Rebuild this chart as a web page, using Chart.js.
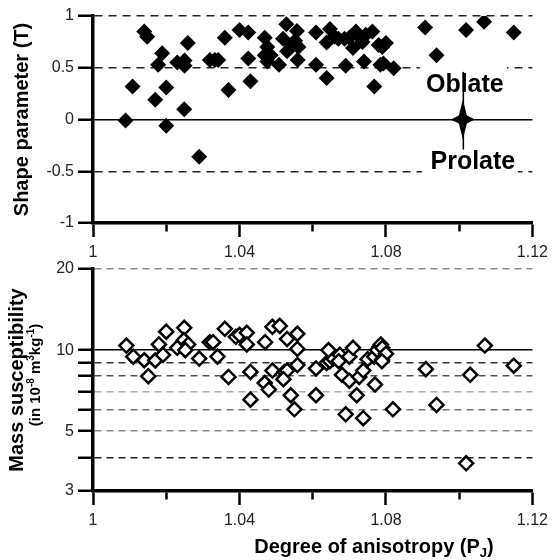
<!DOCTYPE html>
<html>
<head>
<meta charset="utf-8">
<script src="https://cdn.jsdelivr.net/npm/chart.js@4.4.1/dist/chart.umd.min.js"></script>
<style>
  body { margin: 0; background: #fff; }
  #wrap { position: relative; width: 554px; height: 560px; }
  canvas { position: absolute; left: 0; }
  #shape-chart { top: 0; }
  #susc-chart { top: 250px; }
</style>
</head>
<body>
<div id="wrap">
  <canvas id="susc-chart" width="554" height="310"></canvas>
  <canvas id="shape-chart" width="554" height="262"></canvas>
</div>
<script>
// x axis (degree of anisotropy)
const xTicks = [1, 1.02, 1.04, 1.06, 1.08, 1.1, 1.12];
const xTickLabels = ["1", "", "1.04", "", "1.08", "", "1.12"];

// top panel: shape parameter T
const shapeTicks = [-1, -0.5, 0, 0.5, 1];
const shapeTickLabels = ["-1", "-0.5", "0", "0.5", "1"];
const pjShape = [
  1.0089, 1.0108, 1.0140, 1.0148, 1.0189, 1.0178, 1.0170, 1.0200, 1.0200, 1.0259,
  1.0230, 1.0250, 1.0250, 1.0249, 1.0290, 1.0319, 1.0333, 1.0342, 1.0360, 1.0370,
  1.0400, 1.0424, 1.0424, 1.0430, 1.0469, 1.0476, 1.0469, 1.0485, 1.0476, 1.0508,
  1.0528, 1.0519, 1.0557, 1.0543, 1.0561, 1.0559, 1.0530, 1.0552, 1.0609, 1.0609,
  1.0638, 1.0647, 1.0660, 1.0638, 1.0670, 1.0687, 1.0700, 1.0690, 1.0710, 1.0718,
  1.0727, 1.0736, 1.0745, 1.0763, 1.0740, 1.0768, 1.0780, 1.0785, 1.0790, 1.0800,
  1.0793, 1.0821, 1.0907, 1.0938, 1.1019, 1.1068, 1.1149
];
const shapeT = [
  -0.01, 0.32, 0.85, 0.80, 0.64, 0.53, 0.19, 0.31, -0.06, 0.74,
  0.55, 0.57, 0.52, 0.10, -0.36, 0.575, 0.575, 0.575, 0.79, 0.285,
  0.865, 0.84, 0.59, 0.37, 0.79, 0.70, 0.62, 0.62, 0.56, 0.53,
  0.92, 0.78, 0.855, 0.72, 0.70, 0.575, 0.66, 0.76, 0.84, 0.53,
  0.40, 0.875, 0.80, 0.745, 0.78, 0.78, 0.79, 0.52, 0.69, 0.85,
  0.80, 0.75, 0.82, 0.85, 0.56, 0.32, 0.72, 0.53, 0.70, 0.74,
  0.54, 0.495, 0.89, 0.62, 0.865, 0.945, 0.84
];

// oblate / prolate marker
const markerPj = 1.101;
const markerT = 0;
const markerLine = [0.46, -0.29];
const markerLabels = ["Oblate", "Prolate"];

// bottom panel: mass susceptibility (log axis)
const suscTicks = [3, 4, 5, 6, 7, 8, 9, 10, 20];
const suscTickLabels = ["3", "", "5", "", "", "", "", "10", "20"];
const pjSusc = [
  1.0091, 1.0110, 1.0140, 1.0151, 1.0170, 1.0180, 1.0191, 1.0200, 1.0230, 1.0249,
  1.0248, 1.0260, 1.0252, 1.0290, 1.0319, 1.0328, 1.0340, 1.0360, 1.0370, 1.0390,
  1.0400, 1.0420, 1.0420, 1.0430, 1.0430, 1.0470, 1.0490, 1.0510, 1.0530, 1.0558,
  1.0558, 1.0490, 1.0469, 1.0480, 1.0523, 1.0530, 1.0520, 1.0540, 1.0550, 1.0558,
  1.0609, 1.0609, 1.0638, 1.0647, 1.0656, 1.0643, 1.0674, 1.0671, 1.0700, 1.0710,
  1.0680, 1.0700, 1.0690, 1.0720, 1.0738, 1.0727, 1.0738, 1.0750, 1.0770, 1.0768,
  1.0783, 1.0789, 1.0776, 1.0786, 1.0790, 1.0800, 1.0789, 1.0819, 1.0909, 1.0938,
  1.1030, 1.1070, 1.1149, 1.1019
];
const susc = [
  10.4, 9.45, 9.17, 8.0, 9.15, 10.5, 9.6, 11.7, 10.2, 12.1,
  10.9, 10.5, 10.0, 9.3, 10.7, 10.7, 9.46, 12.0, 7.95, 11.2,
  11.4, 11.6, 10.5, 8.3, 6.55, 10.7, 12.2, 12.3, 11.0, 11.5,
  10.1, 8.4, 7.55, 7.14, 8.3, 8.4, 7.8, 6.8, 6.03, 8.8,
  6.8, 8.55, 8.96, 9.1, 9.3, 10.0, 9.6, 9.1, 9.45, 10.2,
  8.1, 7.7, 5.78, 6.8, 5.59, 7.95, 8.4, 9.25, 7.45, 9.45,
  10.3, 9.2, 10.0, 10.5, 10.2, 9.7, 9.1, 6.03, 8.5, 6.26,
  8.1, 10.4, 8.75, 3.80
];

const FONT = "'Liberation Sans', Arial, sans-serif";
Chart.defaults.font.family = FONT;
Chart.defaults.color = "#222";

function toPoints(xs, ys) {
  return xs.map((x, i) => ({ x: x, y: ys[i] }));
}

function xAxis(height) {
  return {
    type: "linear",
    min: 1,
    max: 1.12,
    afterBuildTicks: (scale) => {
      scale.ticks = xTicks.map((v) => ({ value: v }));
    },
    afterFit: (scale) => {
      scale.height = height;
    },
    ticks: {
      autoSkip: false,
      maxRotation: 0,
      padding: 6,
      font: { size: 16 },
      color: "#222",
      callback: (value, index) => xTickLabels[index],
    },
    grid: {
      drawOnChartArea: false,
      tickLength: 14,
      tickWidth: 2.5,
      tickColor: "#000",
      // minor ticks are short
      tickBorderDash: (ctx) => (xTickLabels[ctx.index] === "" ? [7, 100] : []),
    },
    border: { color: "#000", width: 3.5 },
  };
}

// top chart: marker with labels
const markerPlugin = {
  id: "marker",
  afterDatasetsDraw(chart) {
    const ctx = chart.ctx;
    const x = chart.scales.x.getPixelForValue(markerPj);
    const y = chart.scales.y.getPixelForValue(markerT);
    ctx.save();
    ctx.font = "bold 25px " + FONT;
    ctx.textAlign = "center";
    ctx.textBaseline = "alphabetic";

    // white boxes under the labels hide the dashed lines
    ctx.fillStyle = "#fff";
    ctx.fillRect(x - 43, y - 56, 87, 32);
    ctx.fillRect(x - 41, y + 28, 96, 26);
    ctx.fillStyle = "#000";
    ctx.fillText(markerLabels[0], x + 2, y - 28);
    ctx.fillText(markerLabels[1], x + 10, y + 49);

    // vertical line
    ctx.strokeStyle = "#000";
    ctx.lineWidth = 1.5;
    ctx.beginPath();
    ctx.moveTo(x + 0.5, chart.scales.y.getPixelForValue(markerLine[0]));
    ctx.lineTo(x + 0.5, chart.scales.y.getPixelForValue(markerLine[1]));
    ctx.stroke();

    // four pointed star
    ctx.beginPath();
    ctx.moveTo(x, y - 20);
    ctx.lineTo(x + 4, y - 4);
    ctx.lineTo(x + 12, y);
    ctx.lineTo(x + 4, y + 4);
    ctx.lineTo(x, y + 20);
    ctx.lineTo(x - 4, y + 4);
    ctx.lineTo(x - 12, y);
    ctx.lineTo(x - 4, y - 4);
    ctx.closePath();
    ctx.fill();
    ctx.restore();
  },
};

const shapeChart = new Chart(document.getElementById("shape-chart"), {
  type: "scatter",
  data: {
    datasets: [
      {
        data: toPoints(pjShape, shapeT),
        pointStyle: "rectRot",
        pointRadius: 8,
        backgroundColor: "#000",
        borderWidth: 0,
      },
    ],
  },
  options: {
    responsive: false,
    animation: false,
    events: [],
    layout: { padding: { top: 16, right: 15, left: 0, bottom: 0 } },
    plugins: { legend: { display: false }, tooltip: { enabled: false } },
    scales: {
      x: xAxis(39),
      y: {
        min: -1,
        max: 1,
        afterBuildTicks: (scale) => {
          scale.ticks = shapeTicks.map((v) => ({ value: v }));
        },
        afterFit: (scale) => {
          scale.width = 93;
        },
        ticks: {
          padding: 4,
          font: { size: 16 },
          color: "#222",
          callback: (value, index) => shapeTickLabels[index],
        },
        grid: {
          color: (ctx) => {
            const v = shapeTicks[ctx.index];
            if (v === -1) return "rgba(0,0,0,0)";
            return v === 0 ? "#000" : "#222";
          },
          lineWidth: 1.5,
          tickLength: 15,
          tickWidth: 2.5,
          tickColor: "#000",
        },
        border: {
          color: "#000",
          width: 3.5,
          dash: (ctx) => (shapeTicks[ctx.index] === 0 ? [] : [8, 6]),
        },
        title: {
          display: true,
          text: "Shape parameter (T)",
          font: { size: 20, weight: "bold" },
          color: "#000",
          padding: { top: 10, bottom: 0 },
        },
      },
    },
  },
  plugins: [markerPlugin],
});

// bottom chart: extra text (units and x title)
const labelPlugin = {
  id: "labels",
  afterDraw(chart) {
    const ctx = chart.ctx;
    ctx.save();
    ctx.fillStyle = "#000";
    ctx.textBaseline = "alphabetic";

    // units under the y title, rotated
    const big = "bold 15px " + FONT;
    const small = "bold 10px " + FONT;
    const parts = [
      ["(in 10", big, 0],
      ["-8", small, -6],
      [" m", big, 0],
      ["3", small, -6],
      ["kg", big, 0],
      ["-1", small, -6],
      [")", big, 0],
    ];
    let total = 0;
    for (const p of parts) {
      ctx.font = p[1];
      total += ctx.measureText(p[0]).width;
    }
    const midY = (chart.chartArea.top + chart.chartArea.bottom) / 2 - 5;
    ctx.translate(35, midY);
    ctx.rotate(-Math.PI / 2);
    let pos = -total / 2;
    for (const p of parts) {
      ctx.font = p[1];
      ctx.fillText(p[0], pos, 5 + p[2]);
      pos += ctx.measureText(p[0]).width;
    }
    ctx.setTransform(1, 0, 0, 1, 0, 0);

    // x axis title with subscript J
    const title = [
      ["Degree of anisotropy (P", "bold 20px " + FONT, 0],
      ["J", "bold 13px " + FONT, 4],
      [")", "bold 20px " + FONT, 0],
    ];
    total = 0;
    for (const p of title) {
      ctx.font = p[1];
      total += ctx.measureText(p[0]).width;
    }
    pos = 374 - total / 2;
    for (const p of title) {
      ctx.font = p[1];
      ctx.fillText(p[0], pos, 303 + p[2]);
      pos += ctx.measureText(p[0]).width;
    }
    ctx.restore();
  },
};

const suscGridColors = {
  3: "rgba(0,0,0,0)", 4: "#222", 5: "#888", 6: "#777", 7: "#aaa",
  8: "#555", 9: "#333", 10: "#000", 20: "#888",
};

const suscChart = new Chart(document.getElementById("susc-chart"), {
  type: "scatter",
  data: {
    datasets: [
      {
        data: toPoints(pjSusc, susc),
        pointStyle: "rectRot",
        pointRadius: 7,
        backgroundColor: "#fff",
        borderColor: "#000",
        borderWidth: 2.5,
      },
    ],
  },
  options: {
    responsive: false,
    animation: false,
    events: [],
    layout: { padding: { top: 19, right: 15, left: 0, bottom: 0 } },
    plugins: { legend: { display: false }, tooltip: { enabled: false } },
    scales: {
      x: xAxis(69),
      y: {
        type: "logarithmic",
        min: 3,
        max: 20,
        afterBuildTicks: (scale) => {
          scale.ticks = suscTicks.map((v) => ({ value: v }));
        },
        afterFit: (scale) => {
          scale.width = 93;
        },
        ticks: {
          autoSkip: false,
          padding: 4,
          font: { size: 16 },
          color: "#222",
          callback: (value, index) => suscTickLabels[index],
        },
        grid: {
          color: (ctx) => suscGridColors[suscTicks[ctx.index]],
          lineWidth: 1.5,
          tickLength: 15,
          tickWidth: 2.5,
          tickColor: "#000",
        },
        border: {
          color: "#000",
          width: 3.5,
          dash: (ctx) => (suscTicks[ctx.index] === 10 ? [] : [7, 5]),
        },
        title: {
          display: true,
          text: "Mass susceptibility",
          font: { size: 20, weight: "bold" },
          color: "#000",
          padding: { top: 5, bottom: 0 },
        },
      },
    },
  },
  plugins: [labelPlugin],
});
</script>
</body>
</html>
